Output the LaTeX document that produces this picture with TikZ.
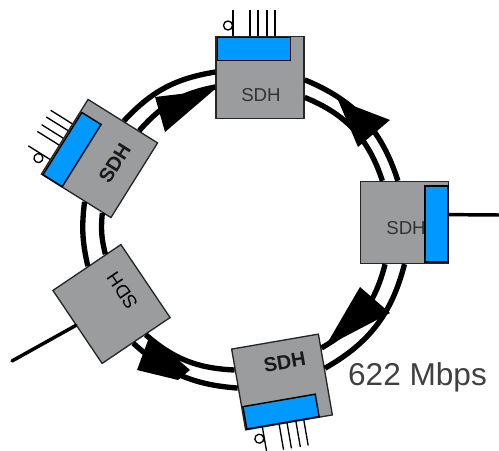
\documentclass[tikz,border=0pt]{standalone}
\usepackage{fontspec}
\setmainfont{Liberation Sans}
\usetikzlibrary{positioning}
\tikzset{
    sdhbox/.style={draw=black!85, fill=sdhgray, line width=1pt, minimum width=66pt, minimum height=61.5pt, inner sep=0pt, transform shape},
    bluebar/.style={draw=black, fill=sdhblue, line width=1.1pt, minimum width=55pt, minimum height=17pt, inner sep=0pt, transform shape},
    sdhlabel/.style={text=black!80, font=\fontsize{14}{14}\selectfont, inner sep=0pt, transform shape},
    boldlabel/.style={sdhlabel, text=black!90, font=\fontsize{15}{15}\selectfont\bfseries},
    lead/.style={draw=black, line width=1pt},
    ringline/.style={draw=black, line width=4pt},
    sideline/.style={draw=black, line width=2.6pt},
    wedge/.style={fill=black}
}
\definecolor{sdhgray}{HTML}{9A9C9E}
\definecolor{sdhblue}{HTML}{0099FF}
\newcommand{\sdhleads}[1]{
    \foreach \lx in {-27,-10,-2,7,15}
        \draw[lead] (\lx,#1*40.5) -- (\lx,#1*67);
    \draw[lead] (-32,#1*52) circle (4.5);
}
\begin{document}
\begin{tikzpicture}[x=.75pt,y=.75pt]
    \useasboundingbox (0,0) rectangle (499,450);

    \begin{scope}[shift={(260,372.5)}]
        \sdhleads{1}
        \node[sdhbox] (sdhtop) at (0,0) {};
        \node[bluebar] (bartop) at (-6,28.5) {};
        \node[sdhlabel] (labeltop) at (1,-17.5) {SDH};
    \end{scope}

    \begin{scope}[shift={(404.5,227.5)}]
        \node[sdhbox] (sdhright) at (0,0) {};
        \node[sdhlabel] (labelright) at (1.5,-6) {SDH};
        \node[bluebar, minimum width=17pt, minimum height=57pt] (barright) at (32,-1.5) {};
    \end{scope}

    \begin{scope}[shift={(282,68)}, rotate=9.8]
        \sdhleads{-1}
        \node[sdhbox] (sdhbottom) at (0,0) {};
        \node[bluebar] (barbottom) at (-6,-29) {};
        \node[boldlabel] (labelbottom) at (6,19) {SDH};
    \end{scope}

    \begin{scope}[shift={(111.5,146)}, rotate=124]
        \node[sdhbox] (sdhlower) at (0,0) {};
        \node[sdhlabel, text=black] (labellower) at (5,-16.5) {SDH};
    \end{scope}

    \begin{scope}[shift={(99.5,291.5)}, rotate=58]
        \sdhleads{1}
        \node[sdhbox] (sdhupper) at (0,0) {};
        \node[bluebar] (barupper) at (-7,28) {};
        \node[boldlabel] (labelupper) at (4,-15.5) {SDH};
    \end{scope}

    \draw[ringline] (sdhupper.-1) to[bend left=19] (sdhtop.173);
    \draw[ringline] (sdhupper.-23) to[bend left=19] (sdhtop.192);
    \draw[ringline] (sdhtop.-3) to[bend left=25] (sdhright.99);
    \draw[ringline] (sdhtop.-24) to[bend left=25] (sdhright.118);
    \draw[ringline] (sdhright.270) to[bend left=23] (sdhbottom.8);
    \draw[ringline] (sdhright.245) to[bend left=23] (sdhbottom.31);
    \draw[ringline] (sdhbottom.178) to[bend left=19] (sdhlower.175);
    \draw[ringline] (sdhbottom.156) to[bend left=19] (sdhlower.194);
    \draw[ringline] (sdhlower.-2) to[bend left=10] (sdhupper.193);
    \draw[ringline] (sdhlower.-27) to[bend left=10] (sdhupper.215);

    \fill[wedge] (155,353) -- (165,318) -- (214,360) -- cycle;
    \fill[wedge] (338,350) -- (390,330) -- (358,303) -- cycle;
    \fill[wedge] (360,163) -- (390,137) -- (325,103) -- cycle;
    \fill[wedge] (150,115) -- (137,80) -- (178,70) -- (190,80) -- cycle;

    \coordinate (feedright) at (499,235);
    \coordinate (feedlower) at (12,89);
    \draw[sideline] (sdhright.10) -- (feedright);
    \draw[sideline, line cap=round] (sdhlower.87) -- (feedlower);

    \node[text=black!75, font=\fontsize{23.7}{24}\selectfont, anchor=base, inner sep=0pt] (rate) at (417.5,65) {622 Mbps};
\end{tikzpicture}
\end{document}
